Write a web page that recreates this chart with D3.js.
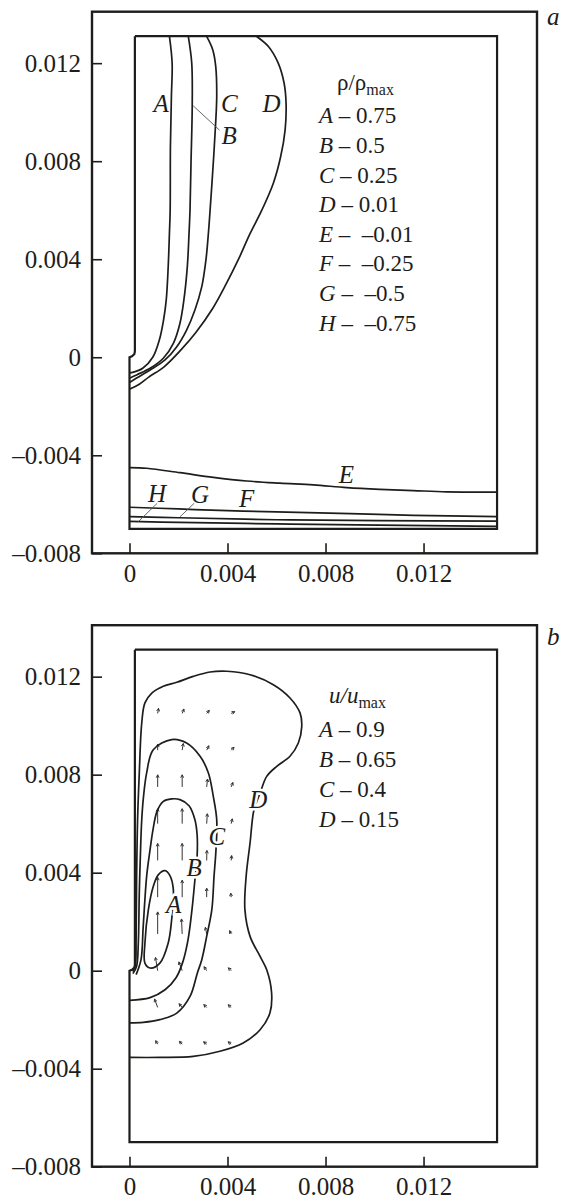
<!DOCTYPE html>
<html>
<head>
<meta charset="utf-8">
<script src="https://cdn.jsdelivr.net/npm/d3@7"></script>
<style>
  body { margin: 0; background: #fff; }
  svg { display: block; }
  text { font-family: "Liberation Serif", "Times New Roman", serif; fill: #1d1d1b; }
</style>
</head>
<body>
<svg id="chart" width="574" height="1201"></svg>
<script>
// axis ticks and extents (same for both panels)
const xTicks = [0, 0.004, 0.008, 0.012];
const yTicks = [-0.008, -0.004, 0, 0.004, 0.008, 0.012];
const xExtent = [-0.00153, 0.01663];
const yExtent = [-0.008, 0.0141];

// computational domain: wall with a small step at y = 0
const wallOutline = [[0.00022, 0.0131], [0.015, 0.0131], [0.015, -0.007], [0, -0.007], [0, 0],
  [0.0001, 0.00004], [0.0002, 0.00013], [0.00022, 0.00025], [0.00022, 0.0131]];

// panel a: charge density contours rho/rho_max
const rhoNames = ["A", "B", "C", "D", "E", "F", "G", "H"];
const rhoLevels = ["0.75", "0.5", "0.25", "0.01", "\u20130.01", "\u20130.25", "\u20130.5", "\u20130.75"];
const rhoA = [[0.00163, 0.01309], [0.00174, 0.0120], [0.00171, 0.01064], [0.00167, 0.0086], [0.00166, 0.00601],
  [0.00163, 0.00506], [0.00158, 0.0037], [0.0015, 0.00234], [0.00139, 0.00152], [0.00122, 0.00071],
  [0.00095, 0.0], [0.00054, -0.00045], [0.00013, -0.00062], [0, -0.00064]];
const rhoB = [[0.0024, 0.01309], [0.00254, 0.0120], [0.00256, 0.01023], [0.00251, 0.00792], [0.00247, 0.00601],
  [0.00243, 0.00506], [0.00236, 0.0037], [0.00222, 0.00234], [0.00206, 0.00139], [0.00179, 0.00057],
  [0.00138, -0.00004], [0.00084, -0.00045], [0.00029, -0.00072], [0, -0.00086]];
const rhoC = [[0.00315, 0.01309], [0.0034, 0.01254], [0.00352, 0.01186], [0.00356, 0.01063], [0.0035, 0.00927],
  [0.0034, 0.00763], [0.00329, 0.00601], [0.00322, 0.00506], [0.00312, 0.00397], [0.00295, 0.00288],
  [0.00267, 0.00193], [0.00233, 0.00111], [0.00193, 0.00043], [0.00145, -0.00011], [0.00084, -0.00052],
  [0.00029, -0.00085], [0, -0.00103]];
const rhoD = [[0.00519, 0.01309], [0.00567, 0.01268], [0.00607, 0.0120], [0.00631, 0.01118], [0.00639, 0.01037],
  [0.00635, 0.00927], [0.00617, 0.00819], [0.00587, 0.0071], [0.0054, 0.006], [0.0049, 0.005],
  [0.00445, 0.004], [0.00395, 0.003], [0.0034, 0.002], [0.0027, 0.001], [0.0021, 0.0003],
  [0.0014, -0.0004], [0.0008, -0.0008], [0.0004, -0.0011], [0, -0.0013]];
const rhoE = [[0, -0.0045], [0.0007, -0.00453], [0.00206, -0.00471], [0.00342, -0.0049], [0.00478, -0.00505],
  [0.00614, -0.00514], [0.0075, -0.00521], [0.00887, -0.00532], [0.01022, -0.00539], [0.01158, -0.00544],
  [0.01295, -0.00549], [0.015, -0.0055]];
const rhoF = [[0, -0.00612], [0.002, -0.00619], [0.004, -0.00626], [0.006, -0.00631], [0.009, -0.00638],
  [0.0116, -0.00645], [0.015, -0.0065]];
const rhoG = [[0, -0.0065], [0.002, -0.00655], [0.006, -0.00663], [0.0102, -0.00667], [0.015, -0.00669]];
const rhoH = [[0, -0.0067], [0.002, -0.00674], [0.006, -0.0068], [0.0102, -0.00685], [0.015, -0.0069]];
const rhoLabelPos = [[0.00129, 0.01002], [0.00407, 0.00871], [0.00407, 0.01002], [0.0058, 0.01002],
  [0.00885, -0.00514], [0.00478, -0.00612], [0.00288, -0.00593], [0.00112, -0.00589]];
const rhoLeaders = [[[0.0026, 0.01026], [0.00367, 0.00927]],
  [[0.00264, -0.00596], [0.00206, -0.00651]],
  [[0.00113, -0.00596], [0.00036, -0.00671]]];

// panel b: velocity contours u/u_max
const uNames = ["A", "B", "C", "D"];
const uLevels = ["0.9", "0.65", "0.4", "0.15"];
const uA = [[0.00145, 0.00408], [0.00165, 0.00388], [0.00179, 0.00331], [0.00172, 0.00208], [0.00158, 0.00113],
  [0.00124, 0.00031], [0.00084, 0.00011], [0.00063, 0.00031], [0.00063, 0.00113], [0.00077, 0.00249],
  [0.00097, 0.00344], [0.00118, 0.00392], [0.00145, 0.00408]];
const uB = [[0, -0.00121], [0.00084, -0.0011], [0.00145, -0.00078], [0.0019, -0.00029], [0.00218, 0.00037],
  [0.00239, 0.00127], [0.00255, 0.00249], [0.00267, 0.00371], [0.00276, 0.00467], [0.00276, 0.00555],
  [0.00267, 0.00616], [0.00243, 0.00673], [0.00206, 0.00698], [0.00172, 0.00701], [0.00137, 0.0069],
  [0.00112, 0.00649], [0.00096, 0.00576], [0.00084, 0.00494], [0.0007, 0.00385], [0.00056, 0.00181],
  [0.00047, 0.00045], [0.00027, -0.00016]];
const uC = [[0, -0.00213], [0.00056, -0.00211], [0.00124, -0.002], [0.00193, -0.00173], [0.00247, -0.00105],
  [0.00277, -0.00009], [0.00295, 0.00045], [0.00315, 0.0014], [0.00336, 0.00249], [0.00345, 0.00385],
  [0.00353, 0.00494], [0.00356, 0.00616], [0.00342, 0.00711], [0.00322, 0.00807], [0.00288, 0.00875],
  [0.00233, 0.00929], [0.00172, 0.00943], [0.00097, 0.00902], [0.0007, 0.00807], [0.00056, 0.00698],
  [0.0005, 0.00616], [0.00046, 0.00521], [0.0004, 0.00317], [0.00036, 0.00113], [0.00029, 0.00018],
  [0.00014, -0.00012]];
const uD = [[0, -0.00354], [0.00124, -0.00354], [0.0026, -0.0035], [0.00369, -0.00329], [0.00464, -0.00295],
  [0.00533, -0.00241], [0.00573, -0.00173], [0.0058, -0.00091], [0.0056, 0.00004], [0.00533, 0.00058],
  [0.00492, 0.0014], [0.00471, 0.00249], [0.00476, 0.00385], [0.00492, 0.00521], [0.00508, 0.00657],
  [0.00533, 0.00725], [0.0056, 0.00793], [0.00601, 0.00834], [0.00655, 0.00875], [0.00689, 0.00929],
  [0.00703, 0.00997], [0.00696, 0.01052], [0.00655, 0.01113], [0.00587, 0.01167], [0.00492, 0.01208],
  [0.00397, 0.01222], [0.00329, 0.01219], [0.0026, 0.01201], [0.00193, 0.01177], [0.00138, 0.01161],
  [0.00091, 0.01133], [0.00063, 0.01093], [0.0005, 0.01011], [0.0004, 0.00807], [0.00033, 0.00616],
  [0.00029, 0.00371], [0.00027, 0.00127], [0.00024, 0.00024], [0.00014, -0.00004]];
const uLabelPos = [[0.0018, 0.00236], [0.00264, 0.00385], [0.00356, 0.00514], [0.00526, 0.00664]];

// velocity vectors on a grid (relative units)
const arrowX = [0.00115, 0.00215, 0.00315, 0.00415];
const arrowY = [0.0105, 0.009, 0.0075, 0.006, 0.0045, 0.003, 0.0015, 0, -0.0015, -0.003];
const arrowU = [
  [0.04, 0.08, 0.12, 0.16],
  [0, 0.05, 0.1, 0.13],
  [0, 0, 0.04, 0.08],
  [0, 0, 0.03, 0.05],
  [0, 0, 0.01, 0.02],
  [0, 0, 0, -0.02],
  [0, -0.03, -0.06, -0.07],
  [-0.1, -0.15, -0.12, -0.13],
  [-0.14, -0.14, -0.13, -0.14],
  [-0.09, -0.13, -0.14, -0.14]];
const arrowV = [
  [0.23, 0.2, 0.14, 0.08],
  [0.27, 0.3, 0.2, 0.13],
  [0.55, 0.55, 0.36, 0.2],
  [0.68, 0.68, 0.45, 0.22],
  [0.77, 0.77, 0.45, 0.22],
  [0.9, 0.77, 0.41, 0.18],
  [1.0, 0.68, 0.3, 0.15],
  [0.6, 0.4, 0.18, 0.13],
  [0.38, 0.17, 0.13, 0.12],
  [0.16, 0.13, 0.11, 0.11]];

const ink = "#1d1d1b";
const svg = d3.select("#chart");
const x = d3.scaleLinear().domain(xExtent).range([92, 537]);
const yTop = d3.scaleLinear().domain(yExtent).range([553.3, 11.7]);
const yBot = d3.scaleLinear().domain(yExtent).range([1166.7, 625.2]);

const fmt = d => d === 0 ? "0" : (d < 0 ? "\u2013" : "") + Math.abs(d).toFixed(3);

function drawFrame(y, letter, letterY) {
  const g = svg.append("g");
  g.append("rect")
    .attr("x", x(xExtent[0])).attr("y", y(yExtent[1]))
    .attr("width", x(xExtent[1]) - x(xExtent[0]))
    .attr("height", y(yExtent[0]) - y(yExtent[1]))
    .attr("fill", "none").attr("stroke", ink).attr("stroke-width", 2.4);

  g.append("g")
    .attr("transform", `translate(${x(xExtent[0])},0)`)
    .call(d3.axisLeft(y).tickValues(yTicks).tickSize(-10).tickPadding(11).tickFormat(fmt))
    .call(a => a.select(".domain").remove());
  g.append("g")
    .attr("transform", `translate(0,${y(yExtent[0])})`)
    .call(d3.axisBottom(x).tickValues(xTicks).tickSize(-10).tickPadding(11).tickFormat(fmt))
    .call(a => a.select(".domain").remove());
  g.selectAll(".tick line").attr("stroke", ink).attr("stroke-width", 1.6);
  g.selectAll(".tick text").attr("font-size", 25).attr("fill", ink)
    .attr("font-family", '"Liberation Serif", serif');

  const wall = d3.line().x(d => x(d[0])).y(d => y(d[1]));
  g.append("path").attr("d", wall(wallOutline))
    .attr("fill", "none").attr("stroke", ink).attr("stroke-width", 2.2);

  g.append("text").attr("x", 547).attr("y", letterY)
    .attr("font-size", 25).attr("font-style", "italic").text(letter);
  return g;
}

function drawContours(g, y, curves, closed) {
  curves.forEach((c, i) => {
    const line = d3.line().x(d => x(d[0])).y(d => y(d[1]))
      .curve(closed[i] ? d3.curveCatmullRomClosed : d3.curveCatmullRom.alpha(0.5));
    const pts = closed[i] ? c.slice(0, -1) : c;
    g.append("path").attr("d", line(pts))
      .attr("fill", "none").attr("stroke", ink).attr("stroke-width", 1.7);
  });
}

function drawLegend(g, x0, headDx, headY, rowY, step, head, names, levels) {
  const t = g.append("text").attr("x", x0 + headDx).attr("y", headY).attr("font-size", 23);
  head(t);
  names.forEach((n, i) => {
    const row = g.append("text").attr("x", x0).attr("y", rowY + i * step)
      .attr("font-size", 23).attr("xml:space", "preserve");
    row.append("tspan").attr("font-style", "italic").text(n);
    const gap = levels[i].startsWith("\u2013") ? " \u2013 \u00a0" : " \u2013 ";
    row.append("tspan").text(gap + levels[i]);
  });
}

// ---------- panel a ----------
const ga = drawFrame(yTop, "a", 25);
drawContours(ga, yTop, [rhoA, rhoB, rhoC, rhoD, rhoE, rhoF, rhoG, rhoH], [0, 0, 0, 0, 0, 0, 0, 0]);
rhoLeaders.forEach(l => {
  ga.append("line")
    .attr("x1", x(l[0][0])).attr("y1", yTop(l[0][1]))
    .attr("x2", x(l[1][0])).attr("y2", yTop(l[1][1]))
    .attr("stroke", "#555").attr("stroke-width", 0.9);
});
ga.selectAll(".lab").data(rhoNames).join("text")
  .attr("x", (d, i) => x(rhoLabelPos[i][0])).attr("y", (d, i) => yTop(rhoLabelPos[i][1]))
  .attr("text-anchor", "middle").attr("font-size", 25).attr("font-style", "italic")
  .text(d => d);
drawLegend(ga, 319, 18, 90, 123.3, 29.63, t => {
  t.append("tspan").text("\u03c1/\u03c1");
  t.append("tspan").attr("font-size", 16).attr("dy", 5).text("max");
}, rhoNames, rhoLevels);

// ---------- panel b ----------
const gb = drawFrame(yBot, "b", 645);
const L = 22;
const ag = gb.append("g").attr("stroke", "#333").attr("stroke-width", 1).attr("fill", "none");
arrowY.forEach((yy, r) => {
  arrowX.forEach((xx, c) => {
    const x1 = x(xx), y1 = yBot(yy);
    const dx = arrowU[r][c] * L, dy = -arrowV[r][c] * L;
    const x2 = x1 + dx, y2 = y1 + dy;
    const ang = Math.atan2(dy, dx), h = 3.2;
    ag.append("path").attr("d",
      `M${x1},${y1}L${x2},${y2}` +
      `M${x2 + h * Math.cos(ang + Math.PI * 0.85)},${y2 + h * Math.sin(ang + Math.PI * 0.85)}L${x2},${y2}` +
      `L${x2 + h * Math.cos(ang - Math.PI * 0.85)},${y2 + h * Math.sin(ang - Math.PI * 0.85)}`);
  });
});
drawContours(gb, yBot, [uA, uB, uC, uD], [1, 0, 0, 0]);
gb.selectAll(".lab").data(uNames).join("text")
  .attr("x", (d, i) => x(uLabelPos[i][0])).attr("y", (d, i) => yBot(uLabelPos[i][1]))
  .attr("text-anchor", "middle").attr("font-size", 25).attr("font-style", "italic")
  .attr("stroke", "#fff").attr("stroke-width", 5).attr("paint-order", "stroke")
  .text(d => d);
drawLegend(gb, 319, 10, 703, 736.7, 30, t => {
  t.append("tspan").attr("font-style", "italic").text("u/u");
  t.append("tspan").attr("font-size", 16).attr("dy", 5).text("max");
}, uNames, uLevels);
</script>
</body>
</html>
